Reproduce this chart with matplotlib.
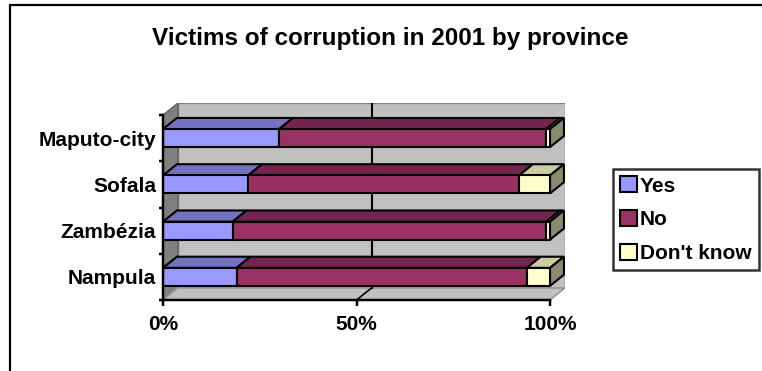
import matplotlib
matplotlib.use("Agg")
import matplotlib.pyplot as plt
from matplotlib.patches import Polygon, Rectangle, Patch
import numpy as np

# ---- data ----
provinces = ["Nampula", "Zambézia", "Sofala", "Maputo-city"]
yes = [19, 18, 22, 30]
no = [75, 81, 70, 69]
dont_know = [6, 1, 8, 1]
series_names = ["Yes", "No", "Don't know"]
xtick_vals = [0, 50, 100]
xtick_labels = ["0%", "50%", "100%"]
title = "Victims of corruption in 2001 by province"

# ---- style ----
front_cols = ["#9999FF", "#993366", "#FFFFCC"]
top_cols = ["#7373BF", "#73264D", "#CCCCA3"]
side_cols = ["#73739F", "#5C1F3D", "#8A8A6E"]
W, H = 762, 371
FONT = "Liberation Sans"
LW = 1.5

fig = plt.figure(figsize=(W / 100, H / 100), dpi=100)

# plot-area pixel geometry
px0, px100 = 163, 550
pbottom, ptop = 300, 115
DXp, DYp = 15, 12
DX = DXp / (px100 - px0) * 100
DY = DYp / ((pbottom - ptop) / 4)

ax = fig.add_axes([px0 / W, (H - pbottom) / H,
                   (px100 + DXp - px0) / W, (pbottom - ptop + DYp) / H])
ax.set_xlim(0, 100 + DX)
ax.set_ylim(-0.5, 3.5 + DY)
ax.patch.set_visible(False)

# walls and floor
wall_kw = dict(closed=True, linewidth=1.0, zorder=1)
ax.add_patch(Polygon([(DX, -0.5 + DY), (100 + DX, -0.5 + DY),
                      (100 + DX, 3.5 + DY), (DX, 3.5 + DY)],
                     facecolor="#C0C0C0", edgecolor="#808080", **wall_kw))
ax.add_patch(Polygon([(0, -0.5), (DX, -0.5 + DY), (DX, 3.5 + DY), (0, 3.5)],
                     facecolor="#808080", edgecolor="#606060", **wall_kw))
ax.add_patch(Polygon([(0, -0.5), (100, -0.5), (100 + DX, -0.5 + DY), (DX, -0.5 + DY)],
                     facecolor="#C0C0C0", edgecolor="#909090", **wall_kw))
# gridline on back wall & floor
ax.plot([50 + DX, 50 + DX], [-0.5 + DY, 3.5 + DY], color="black", lw=LW, zorder=2)
ax.plot([50, 50 + DX], [-0.5, -0.5 + DY], color="black", lw=LW * 0.8, zorder=2)
ax.plot([0, DX], [-0.5, -0.5 + DY], color="#A0A0A0", lw=1.0, zorder=2)

# bars
bar_h = 18 / ((pbottom - ptop) / 4)
bdx, bdy = DX * 0.93, DY * 0.93
ypos = np.arange(len(provinces))
data = [yes, no, dont_know]
left = np.zeros(len(provinces))
for si, vals in enumerate(data):
    vals = np.array(vals, dtype=float)
    ax.barh(ypos, vals, left=left, height=bar_h, color=front_cols[si],
            edgecolor="black", linewidth=LW, zorder=5)
    for yi, (l, v) in enumerate(zip(left, vals)):
        yt = yi + bar_h / 2
        ax.add_patch(Polygon([(l, yt), (l + v, yt), (l + v + bdx, yt + bdy), (l + bdx, yt + bdy)],
                             closed=True, facecolor=top_cols[si], edgecolor="black",
                             linewidth=LW, zorder=4))
    left = left + vals
# right side faces
totals = left
for yi, t in enumerate(totals):
    yb, yt = yi - bar_h / 2, yi + bar_h / 2
    ax.add_patch(Polygon([(t, yb), (t + bdx, yb + bdy), (t + bdx, yt + bdy), (t, yt)],
                         closed=True, facecolor=side_cols[2], edgecolor="black",
                         linewidth=LW, zorder=4))

# axes / ticks
for s in ["top", "right"]:
    ax.spines[s].set_visible(False)
ax.spines["left"].set_bounds(-0.5, 3.5)
ax.spines["bottom"].set_bounds(0, 100)
for s in ["left", "bottom"]:
    ax.spines[s].set_linewidth(LW * 1.2)
    ax.spines[s].set_zorder(6)
ax.set_xticks(xtick_vals)
ax.set_xticklabels(xtick_labels, fontfamily=FONT, fontweight="bold", fontsize=15)
ax.tick_params(axis="x", length=4, width=LW * 1.2, pad=7)
ax.set_yticks(ypos)
ax.set_yticklabels(provinces, fontfamily=FONT, fontweight="bold", fontsize=15)
ax.tick_params(axis="y", which="major", length=0, pad=5)
ax.set_yticks(np.arange(-0.5, 4.0, 1.0), minor=True)
ax.tick_params(axis="y", which="minor", length=3, width=LW * 1.2)

# title
fig.text(390 / W, 1 - 38 / H, title, ha="center", va="center",
         fontfamily=FONT, fontweight="bold", fontsize=17.5)

# outer frame
fig.patches.append(Rectangle((10 / W, -0.1), 1.1, (H - 5) / H + 0.1,
                             transform=fig.transFigure, fill=False,
                             edgecolor="black", linewidth=1.6, zorder=0))

# legend
handles = [Patch(facecolor=c, edgecolor="black", linewidth=LW) for c in front_cols]
leg = fig.legend(handles, series_names, loc="upper left",
                 bbox_to_anchor=(613 / W, 1 - 169 / H),
                 prop=dict(family=FONT, weight="bold", size=15),
                 frameon=True, fancybox=False, edgecolor="black",
                 handlelength=0.8, handleheight=0.8, handletextpad=0.15,
                 borderpad=0.35, labelspacing=0.7, borderaxespad=0)
leg.get_frame().set_linewidth(1.8)

fig.savefig("out.png", dpi=100)
